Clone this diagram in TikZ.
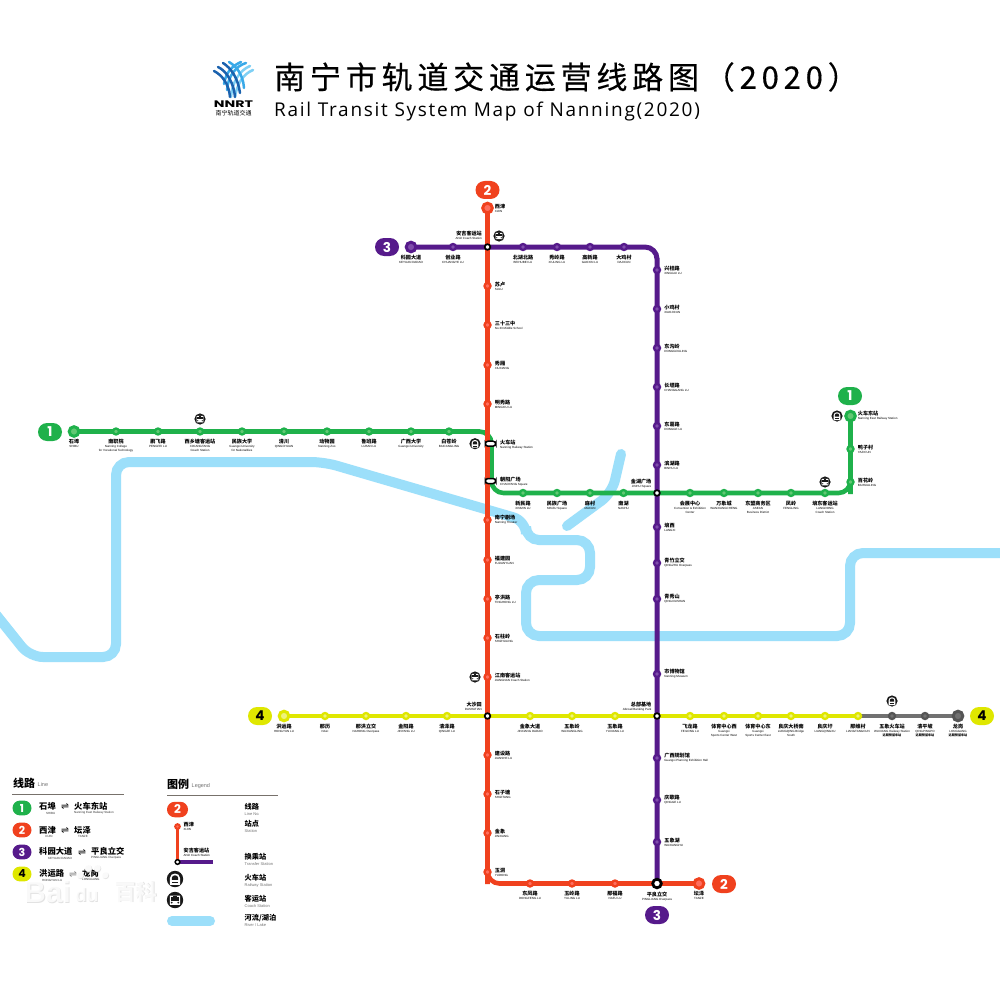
\documentclass[tikz,border=0pt]{standalone}
\usepackage{fontspec}
\setmainfont{Liberation Sans}
\newfontfamily\cnf{Noto Sans CJK SC}
\newfontfamily\titlef[LetterSpace=15.5,FakeBold=0.35]{Noto Sans CJK SC}
\newfontfamily\titlee[LetterSpace=9]{Open Sans}
\newfontfamily\numf{Poppins}
\newfontfamily\enf{Liberation Sans}
\newfontfamily\djv{DejaVu Sans}
\definecolor{cOne}{HTML}{1FB14B}\definecolor{cOneI}{HTML}{62C873}
\definecolor{cTwo}{HTML}{F0411E}\definecolor{cTwoI}{HTML}{FF6E5E}
\definecolor{cThree}{HTML}{561A8B}\definecolor{cThreeI}{HTML}{7F4DAB}
\definecolor{cFour}{HTML}{DFE700}\definecolor{cFourI}{HTML}{EEF27C}
\definecolor{cGrey}{HTML}{717171}\definecolor{cGreyD}{HTML}{555555}
\definecolor{cRiver}{HTML}{9CDFFA}
\definecolor{cRule}{HTML}{77716B}\definecolor{cBaidu}{HTML}{E2E2E2}
\newcommand{\cnt}[1]{{\cnf\bfseries\fontsize{5.1}{6}\selectfont #1}}
\newcommand{\cns}[1]{{\cnf\bfseries\fontsize{3.1}{4}\selectfont #1}}
\pgfdeclarelayer{bgl}\pgfdeclarelayer{lines}
\pgfsetlayers{bgl,lines,main}
\tikzset{
 base/.style={circle,inner sep=0pt,line width=2.3pt,minimum size=6pt},
 st1/.style={base,draw=cOne,fill=cOneI},
 st2/.style={base,draw=cTwo,fill=cTwoI},
 st3/.style={base,draw=cThree,fill=cThreeI},
 st4/.style={base,draw=cFour,fill=cFourI},
 st5/.style={base,draw=cGreyD,fill=cGrey},
 tm/.style={line width=3pt,minimum size=9.6pt},
 xfer/.style={circle,inner sep=0pt,draw=black,fill=white,line width=1.7pt,minimum size=5.6pt},
 xferbig/.style={xfer,line width=2.8pt,minimum size=8.6pt},
 capsule/.style={rectangle,rounded corners=2.8pt,inner sep=0pt,draw=black,fill=white,line width=1.5pt,minimum width=10.5pt,minimum height=5pt},
 lab/.style={inner sep=0pt,font=\enf\fontsize{3}{4}\selectfont},
 blab/.style={lab,align=center,anchor=north},
 rlab/.style={lab,align=left,anchor=west},
 alab/.style={lab,align=right,anchor=south east},
 ln/.style={line width=4.6pt,rounded corners=12pt},
 pill/.style={rectangle,rounded corners=9pt,minimum width=24pt,minimum height=18pt,inner sep=0pt,text=white,font=\numf\bfseries\fontsize{13.5}{13.5}\selectfont},
 pillsm/.style={pill,rounded corners=7.4pt,minimum width=19pt,minimum height=14.8pt,font=\numf\bfseries\fontsize{11}{11}\selectfont},
 river/.style={draw=cRiver,line width=10pt,line cap=round,rounded corners=13pt},
 leg/.style={inner sep=0pt,anchor=west,font=\cnf\bfseries\fontsize{8.3}{9}\selectfont},
 legen/.style={inner sep=0pt,anchor=west,font=\enf\fontsize{3}{4}\selectfont,text=black!80},
 legc/.style={inner sep=0pt,anchor=west,font=\cnf\bfseries\fontsize{7.2}{8}\selectfont},
 lege/.style={inner sep=0pt,anchor=west,font=\enf\fontsize{4}{5}\selectfont,text=black!55},
 arr/.style={inner sep=0pt,font=\djv\fontsize{9.5}{9.5}\selectfont},
 rule/.style={draw=cRule,line width=1pt},
 bdg/.style={inner sep=0pt,anchor=west,text=cBaidu},
 bdw/.style={inner sep=0pt,anchor=west,text=white,opacity=.8},
 coach icon/.pic={
  \fill[black!90] (0,0) circle (1);
  \fill[white,rounded corners=.12pt] (-.62,-.55) rectangle (.62,.58);
  \fill[black!90] (-.45,-.36) rectangle (.45,.08);
  \fill[black!90] (-.4,.32) circle (.12) (.4,.32) circle (.12);
  \fill[black!90] (-.2,-.48) rectangle (.2,-.42);
 },
 rail icon/.pic={
  \fill[black!90] (0,0) circle (1);
  \fill[white] (-.62,.72) -- (-.62,-.1) .. controls (-.62,-.85) and (.62,-.85) .. (.62,-.1) -- (.62,.72) -- cycle;
  \fill[black!90] (-.38,.12) -- (-.38,-.15) .. controls (-.38,-.55) and (.38,-.55) .. (.38,-.15) -- (.38,.12) -- cycle;
  \fill[black!90] (-.34,.36) rectangle (.34,.46);
 }
}
% station + label below / right
\newcommand{\stB}[6]{\node[#4] (#1) at (#2,#3) {};\node[blab] (#1-t) at (#2,#3+7.6) {\cnt{#5}\\#6};}
\newcommand{\stR}[6]{\node[#4] (#1) at (#2,#3) {};\node[rlab] (#1-t) at (#2+7.2,#3) {\cnt{#5}\\#6};}
\begin{document}
\begin{tikzpicture}[x=1pt,y=-1pt]
\useasboundingbox (0,0) rectangle (1000,1000);
\begin{pgfonlayer}{bgl}
 \fill[white] (0,0) rectangle (1000,1000);
 \coordinate (r0) at (-6,612); \coordinate (r1) at (30,657); \coordinate (r2) at (116,657);
 \coordinate (r3) at (116,462); \coordinate (r4) at (324,462); \coordinate (r5) at (526,521);
 \coordinate (r6) at (526,540); \coordinate (r7) at (590,540); \coordinate (r8) at (590,580);
 \coordinate (r9) at (526,580); \coordinate (r10) at (526,636); \coordinate (r11) at (850,636);
 \coordinate (r12) at (850,553); \coordinate (r13) at (1006,553);
 \draw[river] (r0) -- (r1) -- (r2) -- (r3) -- (r4) -- (r5) -- (r6) -- (r7) -- (r8) -- (r9) -- (r10) -- (r11) -- (r12) -- (r13);
 \coordinate (b0) at (621,454); \coordinate (b1) at (612,493); \coordinate (b2) at (567,526);
 \draw[river] (b0) -- (b1) -- (b2);
\end{pgfonlayer}

% Line 1
\stB{a1}{74}{431.5}{st1,tm}{石埠}{SHIBU}
\stB{a2}{116}{431.5}{st1}{南职院}{Nanning College\\for Vocational Technology}
\stB{a3}{158}{431.5}{st1}{鹏飞路}{PENGFEI LU}
\stB{a4}{200}{431.5}{st1}{西乡塘客运站}{XIXIANGTANG\\Coach Station}
\stB{a5}{242}{431.5}{st1}{民族大学}{Guangxi University\\for Nationalities}
\stB{a6}{284}{431.5}{st1}{清川}{QINGCHUAN}
\stB{a7}{327}{431.5}{st1}{动物园}{Nanning Zoo}
\stB{a8}{369}{431.5}{st1}{鲁班路}{LUBAN LU}
\stB{a9}{411}{431.5}{st1}{广西大学}{Guangxi University}
\stB{a10}{449}{431.5}{st1}{白苍岭}{BAICANGLING}
\node[capsule] (a11) at (490.5,443.7) {};
\node[rlab] (a11-t) at (500,445) {\cnt{火车站}\\Nanning Railway Station};
\node[capsule] (a12) at (490.5,481) {};
\node[rlab] (a12-t) at (500,482) {\cnt{朝阳广场}\\CHAOYANG Square};
\stB{a13}{523}{493}{st1}{新民路}{XINMIN LU}
\stB{a14}{557}{493}{st1}{民族广场}{MINZU Square}
\stB{a15}{590}{493}{st1}{麻村}{MACUN}
\stB{a16}{623.5}{493}{st1}{南湖}{NANHU}
\node[xfer] (x1) at (657,493) {};
\node[alab] (x1-t) at (651.5,488) {\cnt{金湖广场}\\JINHU Square};
\stB{a18}{690}{493}{st1}{会展中心}{Convention \& Exhibition\\Center}
\stB{a19}{724}{493}{st1}{万象城}{WANXIANGCHENG}
\stB{a20}{758}{493}{st1}{东盟商务区}{ASEAN\\Business District}
\stB{a21}{791}{493}{st1}{凤岭}{FENGLING}
\stB{a22}{825}{493}{st1}{埌东客运站}{LANGDONG\\Coach Station}
\stR{a23}{850.5}{482}{st1}{百花岭}{BAIHUALING}
\stR{a24}{850.5}{449}{st1}{鸭子村}{YAZICUN}
\stR{a25}{850.5}{416}{st1,tm}{火车东站}{Nanning East Railway Station}
\coordinate (c1a) at (491.5,431.5); \coordinate (c1b) at (491.5,493); \coordinate (c1c) at (850.5,493);

% Line 2
\stR{b1}{487.5}{208}{st2,tm}{西津}{XIJIN}
\node[xfer] (x2) at (487.5,247) {};
\node[alab] (x2-t) at (482,240) {\cnt{安吉客运站}\\ANJI Coach Station};
\stR{b3}{487.5}{286}{st2}{苏卢}{SULU}
\stR{b4}{487.5}{325}{st2}{三十三中}{No.33 Middle School}
\stR{b5}{487.5}{365}{st2}{秀厢}{XIUXIANG}
\stR{b6}{487.5}{404}{st2}{明秀路}{MINGXIU LU}
\stR{b9}{487.5}{520}{st2}{南宁剧场}{Nanning Theater}
\stR{b10}{487.5}{560}{st2}{福建园}{FUJIANYUAN}
\stR{b11}{487.5}{599}{st2}{亭洪路}{TINGHONG LU}
\stR{b12}{487.5}{638}{st2}{石柱岭}{SHIZHULING}
\stR{b13}{487.5}{677}{st2}{江南客运站}{JIANGNAN Coach Station}
\node[xfer] (x3) at (487.5,716) {};
\node[alab] (x3-t) at (482,711) {\cnt{大沙田}\\DASHATIAN};
\stR{b15}{487.5}{755}{st2}{建设路}{JIANSHE LU}
\stR{b16}{487.5}{794}{st2}{石子塘}{SHIZITANG}
\stR{b17}{487.5}{833}{st2}{金象}{JINXIANG}
\stR{b18}{487.5}{872}{st2}{玉洞}{YUDONG}
\stB{b19}{530}{883.5}{st2}{东凤路}{DONGFENG LU}
\stB{b20}{572}{883.5}{st2}{玉岭路}{YULING LU}
\stB{b21}{615}{883.5}{st2}{那福路}{NAFU LU}
\node[xferbig] (x4) at (657,883.5) {};
\node[blab] (x4-t) at (657,891.5) {\cnt{平良立交}\\PINGLIANG Overpass};
\stB{b23}{699}{883.5}{st2,tm}{坛泽}{TANZE}
\coordinate (c2a) at (487.5,883.5);

% Line 3
\stB{c1}{411}{247}{st3,tm}{科园大道}{KEYUAN DADAO}
\stB{c2}{453}{247}{st3}{创业路}{CHUANGYE LU}
\stB{c4}{523}{247}{st3}{北湖北路}{BEIHUBEI LU}
\stB{c5}{557}{247}{st3}{秀岭路}{XIULING LU}
\stB{c6}{590}{247}{st3}{高新路}{GAOXIN LU}
\stB{c7}{624}{247}{st3}{大鸡村}{DAJICUN}
\stR{c8}{657}{270}{st3}{兴桂路}{XINGGUI LU}
\stR{c9}{657}{309}{st3}{小鸡村}{XIAOJICUN}
\stR{c10}{657}{348}{st3}{东沟岭}{DONGGOULING}
\stR{c11}{657}{387}{st3}{长堽路}{CHANGGANG LU}
\stR{c12}{657}{426}{st3}{东葛路}{DONGGE LU}
\stR{c13}{657}{465}{st3}{滨湖路}{BINHU LU}
\stR{c15}{657}{527}{st3}{埌西}{LANGXI}
\stR{c16}{657}{563}{st3}{青竹立交}{QINGZHU Overpass}
\stR{c17}{657}{599}{st3}{青秀山}{QINGXIUSHAN}
\stR{c18}{657}{674}{st3}{市博物馆}{Nanning Museum}
\node[xfer] (x5) at (657,716) {};
\node[alab] (x5-t) at (651.5,711) {\cnt{总部基地}\\Abroad Banking Park};
\stR{c20}{657}{758}{st3}{广西规划馆}{Guangxi Planning Exhibition Hall}
\stR{c21}{657}{800}{st3}{庆歌路}{QINGGE LU}
\stR{c22}{657}{842}{st3}{五象湖}{WUXIANGHU}
\coordinate (c3a) at (657,247);

% Line 4
\stB{d1}{284}{716}{st4,tm}{洪运路}{HONGYUN LU}
\stB{d2}{325}{716}{st4}{那历}{NALI}
\stB{d3}{366}{716}{st4}{那洪立交}{NAHONG Overpass}
\stB{d4}{406}{716}{st4}{金阳路}{JINYANG LU}
\stB{d5}{447}{716}{st4}{清泽路}{QINGZE LU}
\stB{d7}{530}{716}{st4}{金象大道}{JINXIANG DADAO}
\stB{d8}{572}{716}{st4}{五象岭}{WUXIANGLING}
\stB{d9}{615}{716}{st4}{玉象路}{YUXIANG LU}
\stB{d11}{690}{716}{st4}{飞龙路}{FEILONG LU}
\stB{d12}{724}{716}{st4}{体育中心西}{Guangxi\\Sports Center West}
\stB{d13}{758}{716}{st4}{体育中心东}{Guangxi\\Sports Center East}
\stB{d14}{791}{716}{st4}{良庆大桥南}{LIANGQING Bridge\\South}
\stB{d15}{825}{716}{st4}{良庆圩}{LIANGQINGXU}
\stB{d16}{858}{716}{st4}{那维村}{LIANGTANGCUN}
\stB{d17}{892}{716}{st5}{五象火车站}{WUXIANG Railway Station\\\cns{远期预留车站}}
\stB{d18}{925}{716}{st5}{清平坡}{QINGPINGPO\\\cns{远期预留车站}}
\stB{d19}{958}{716}{st5,tm}{龙岗}{LONGGANG\\\cns{远期预留车站}}

% connectors, behind the station nodes
\begin{pgfonlayer}{lines}
 \draw[ln,cOne] (a1.center) -- (a2.center) -- (a3.center) -- (a4.center) -- (a5.center) -- (a6.center) -- (a7.center) -- (a8.center) -- (a9.center) -- (a10.center) -- (c1a) -- (c1b) -- (a13.center) -- (a14.center) -- (a15.center) -- (a16.center) -- (x1.center) -- (a18.center) -- (a19.center) -- (a20.center) -- (a21.center) -- (a22.center) -- (c1c) -- (a23.center) -- (a24.center) -- (a25.center);
 \draw[ln,cThree,line width=5pt] (c1.center) -- (c2.center) -- (x2.center) -- (c4.center) -- (c5.center) -- (c6.center) -- (c7.center) -- (c3a) -- (c8.center) -- (c9.center) -- (c10.center) -- (c11.center) -- (c12.center) -- (c13.center) -- (x1.center) -- (c15.center) -- (c16.center) -- (c17.center) -- (c18.center) -- (x5.center) -- (c20.center) -- (c21.center) -- (c22.center) -- (x4.center);
 \draw[ln,cFour] (d1.center) -- (d2.center) -- (d3.center) -- (d4.center) -- (d5.center) -- (x3.center) -- (d7.center) -- (d8.center) -- (d9.center) -- (x5.center) -- (d11.center) -- (d12.center) -- (d13.center) -- (d14.center) -- (d15.center) -- (d16.center);
 \draw[ln,cGrey] (d16.center) -- (d17.center) -- (d18.center) -- (d19.center);
 \draw[ln,cTwo] (b1.center) -- (x2.center) -- (b3.center) -- (b4.center) -- (b5.center) -- (b6.center) -- (b9.center) -- (b10.center) -- (b11.center) -- (b12.center) -- (b13.center) -- (x3.center) -- (b15.center) -- (b16.center) -- (b17.center) -- (b18.center) -- (c2a) -- (b19.center) -- (b20.center) -- (b21.center) -- (x4.center) -- (b23.center);
\end{pgfonlayer}

% line badges
\node[pill,fill=cOne] (p1a) at (50,432) {1};
\node[pill,fill=cOne] (p1b) at (850,396) {1};
\node[pill,fill=cTwo] (p2a) at (487.5,190) {2};
\node[pill,fill=cTwo] (p2b) at (724,884) {2};
\node[pill,fill=cThree] (p3a) at (387,247) {3};
\node[pill,fill=cThree] (p3b) at (657,915) {3};
\node[pill,fill=cFour,text=black] (p4a) at (260,716) {4};
\node[pill,fill=cFour,text=black] (p4b) at (982,716) {4};

% station icons
\pic (i1) [scale=5.6] at (200,419) {coach icon};
\pic (i2) [scale=5.6] at (475,443.7) {rail icon};
\pic (i3) [scale=5.6] at (837,416) {rail icon};
\pic (i4) [scale=5.6] at (825,482) {coach icon};
\pic (i5) [scale=5.6] at (499,236) {coach icon};
\pic (i6) [scale=5.6] at (475,677) {coach icon};
\pic (i7) [scale=5.6] at (892,701) {rail icon};

% title
\node[inner sep=0pt,anchor=west,font=\titlef\fontsize{31}{31}\selectfont] (title) at (274,77) {南宁市轨道交通运营线路图（2020）};
\node[inner sep=0pt,anchor=west,font=\titlee\fontsize{19}{20}\selectfont] (subtitle) at (274,112) {Rail Transit System Map of Nanning(2020)};
% logo
\begin{scope}[line cap=round,line width=2.5pt]
 \definecolor{lgA}{HTML}{1B62AE}\definecolor{lgB}{HTML}{39A9E8}\definecolor{lgC}{HTML}{7FD0F5}
 \draw[lgC] (253,70) .. controls (243,74) and (237,84) .. (235,97);
 \draw[lgC] (250,66) .. controls (240,70) and (232,82) .. (231,97);
 \draw[lgB] (246,63) .. controls (236,66) and (228,76) .. (227,90);
 \draw[lgB] (241,62) .. controls (232,66) and (226,72) .. (224,84);
 \draw[lgA] (214,71) .. controls (222,75) and (229,84) .. (230,97);
 \draw[lgA] (218,67) .. controls (227,71) and (234,84) .. (235,97);
 \draw[lgA] (223,63) .. controls (231,68) and (238,78) .. (240,93);
 \draw[lgB] (229,62) .. controls (236,66) and (243,74) .. (244,88);
\end{scope}
\node[inner sep=0pt,xscale=1.5,font=\numf\bfseries\fontsize{9.5}{10}\selectfont] (logoA) at (233.5,104.5) {NNRT};
\node[inner sep=0pt,font=\cnf\fontsize{6}{6}\selectfont] (logoB) at (233.5,113.5) {南宁轨道交通};

% legend: lines
\node[inner sep=0pt,anchor=west,font=\cnf\bfseries\fontsize{11}{12}\selectfont] (hl) at (13,783.5) {线路};
\node[inner sep=0pt,anchor=west,font=\enf\fontsize{5.5}{6}\selectfont,text=black!55] (hle) at (37.5,785) {Line};
\coordinate (hl1) at (12,794); \coordinate (hl2) at (124,794);
\draw[rule] (hl1) -- (hl2);
\node[pillsm,fill=cOne] (q1) at (22,808) {1};
\node[leg] (q1a) at (39,806) {石埠}; \node[legen] (q1b) at (46,813) {SHIBU};
\node[arr] (q1c) at (65,807) {⇌};
\node[leg] (q1d) at (74,806) {火车东站}; \node[legen] (q1e) at (74,813) {Nanning East Railway Station};
\node[pillsm,fill=cTwo] (q2) at (22,830) {2};
\node[leg] (q2a) at (39,830) {西津}; \node[legen] (q2b) at (45,836) {XIJIN};
\node[arr] (q2c) at (65,831) {⇌};
\node[leg] (q2d) at (74,830) {坛泽}; \node[legen] (q2e) at (78,836) {TANZE};
\node[pillsm,fill=cThree] (q3) at (22,852) {3};
\node[leg] (q3a) at (39,851) {科园大道}; \node[legen] (q3b) at (48,858) {KEYUAN DADAO};
\node[arr] (q3c) at (82,853) {⇌};
\node[leg] (q3d) at (91,851) {平良立交}; \node[legen] (q3e) at (91,858) {PINGLIANG Overpass};
\node[pillsm,fill=cFour,text=black] (q4) at (22,874) {4};
\node[leg] (q4a) at (39,873) {洪运路}; \node[legen] (q4b) at (42,880) {HONGYUN LU};
\node[arr,text=black!50] (q4c) at (73,875) {⇌};
\node[leg] (q4d) at (82,873) {龙岗}; \node[legen] (q4e) at (82,879) {LONGGANG};

% legend: symbols
\node[inner sep=0pt,anchor=west,font=\cnf\bfseries\fontsize{11}{12}\selectfont] (hs) at (167,784.5) {图例};
\node[inner sep=0pt,anchor=west,font=\enf\fontsize{5.5}{6}\selectfont,text=black!55] (hse) at (191.5,786) {Legend};
\coordinate (hs1) at (167,795); \coordinate (hs2) at (278,795);
\draw[rule] (hs1) -- (hs2);
\node[pill,fill=cTwo,minimum width=21pt,minimum height=15.5pt,rounded corners=7.7pt,font=\numf\bfseries\fontsize{12}{12}\selectfont] (ls1) at (177.5,809.5) {2};
\node[st2,line width=2pt,minimum size=4.6pt] (ls2) at (177.5,826.5) {};
\node[xfer,line width=1.5pt,minimum size=4.6pt] (ls3) at (177.5,862) {};
\coordinate (ls4) at (213,862);
\begin{pgfonlayer}{lines}
 \draw[cTwo,line width=3.4pt] (ls2.center) -- (ls3.center);
 \draw[cThree,line width=3.4pt] (ls3.center) -- (ls4);
\end{pgfonlayer}
\node[rlab] (ls2t) at (183.5,826.5) {\cnt{西津}\\XIJIN};
\node[rlab] (ls3t) at (183.5,852.5) {\cnt{安吉客运站}\\ANJI Coach Station};
\pic (ls5) [scale=8.2] at (175,879) {rail icon};
\pic (ls6) [scale=8.2] at (175,900) {coach icon};
\coordinate (ls7) at (172,921); \coordinate (ls8) at (210,921);
\draw[river] (ls7) -- (ls8);
\node[legc] (t1) at (244.5,807) {线路}; \node[lege] (t1e) at (244.5,814) {Line No.};
\node[legc] (t2) at (244.5,824) {站点}; \node[lege] (t2e) at (244.5,831) {Station};
\node[legc] (t3) at (244.5,857) {换乘站}; \node[lege] (t3e) at (244.5,864) {Transfer Station};
\node[legc] (t4) at (244.5,878) {火车站}; \node[lege] (t4e) at (244.5,885) {Railway Station};
\node[legc] (t5) at (244.5,899) {客运站}; \node[lege] (t5e) at (244.5,906) {Coach Station};
\node[legc] (t6) at (244.5,918) {河流/湖泊}; \node[lege] (t6e) at (244.5,925) {River / Lake};

% Baidu mark: pale shadow under a translucent white face
\node[bdg,font=\enf\bfseries\fontsize{30}{30}\selectfont] (bd1s) at (24.8,892.8) {Bai};
\node[bdg,font=\enf\bfseries\fontsize{19}{19}\selectfont] (bd2s) at (75.8,895.8) {du};
\node[bdg,font=\cnf\bfseries\fontsize{21.5}{22}\selectfont] (bd3s) at (114.8,892.8) {百科};
\foreach \px/\py/\pr in {80/875/3.4,88/868/3.6,97/868/3.6,105/875/3.4}{
 \fill[cBaidu] (\px+.7,\py+.7) circle (\pr);
 \fill[white,opacity=.85] (\px,\py) circle (\pr);
}
\node[bdw,font=\enf\bfseries\fontsize{30}{30}\selectfont] (bd1) at (24,892) {Bai};
\node[bdw,font=\enf\bfseries\fontsize{19}{19}\selectfont] (bd2) at (75,895) {du};
\node[bdw,font=\cnf\bfseries\fontsize{21.5}{22}\selectfont] (bd3) at (114,892) {百科};
\end{tikzpicture}
\end{document}
